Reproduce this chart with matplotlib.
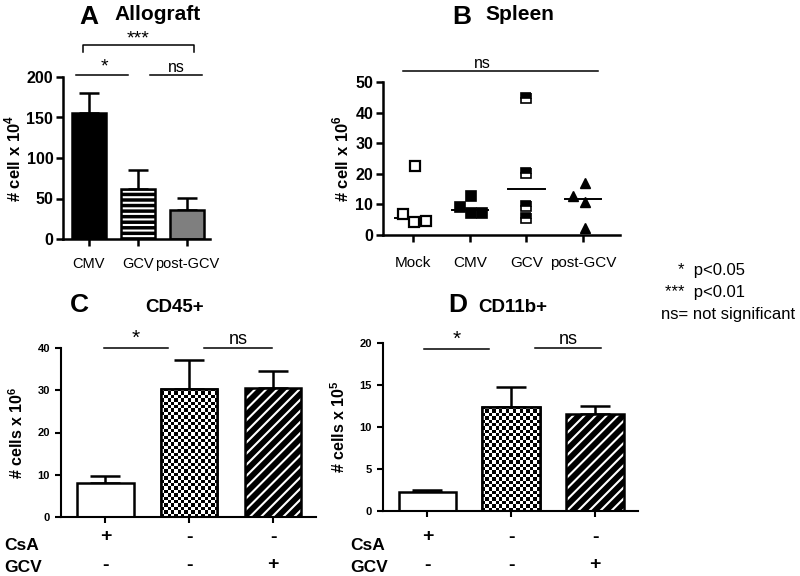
import matplotlib
matplotlib.use('Agg')
import matplotlib.pyplot as plt
import numpy as np

plt.rcParams['font.family'] = ['Liberation Sans', 'DejaVu Sans']
plt.rcParams['mathtext.fontset'] = 'custom'
plt.rcParams['mathtext.rm'] = 'Liberation Sans'
plt.rcParams['mathtext.bf'] = 'Liberation Sans:bold'
plt.rcParams['hatch.linewidth'] = 1.5

# ---- data ----
a_groups = ['CMV', 'GCV', 'post-GCV']
a_mean = [155, 62, 36]
a_sem = [25, 23, 15]

b_groups = ['Mock', 'CMV', 'GCV', 'post-GCV']
b_mock = [6.7, 4.3, 4.7, 22.6]
b_cmv = [9.2, 12.8, 7.3, 7.3]
b_gcv = [44.9, 20.3, 9.5, 5.7]
b_post = [12.8, 17.1, 10.7, 2.3]
# horizontal spread of points (GraphPad style scatter)
b_jitter = [[-0.18, 0.02, 0.22, 0.03],
            [-0.18, 0.03, 0.03, 0.22],
            [0, 0, 0, 0],
            [-0.18, 0.03, 0.03, 0.03]]

c_mean = [8.0, 30.3, 30.6]
c_sem = [1.7, 6.8, 3.9]

d_mean = [2.3, 12.4, 11.6]
d_sem = [0.15, 2.4, 0.9]

csa_signs = ['+', '-', '-']
gcv_signs = ['-', '-', '+']

W, H = 800, 576
fig = plt.figure(figsize=(8, 5.76), dpi=100)


def px_axes(l, t, r, b):
    return fig.add_axes([l / W, 1 - b / H, (r - l) / W, (b - t) / H])


def style_axes(ax, lw):
    for s in ['top', 'right']:
        ax.spines[s].set_visible(False)
    for s in ['left', 'bottom']:
        ax.spines[s].set_linewidth(lw)
    ax.tick_params(width=lw, length=5, direction='out', pad=2)


def checker_fill(ax, bar, size=3.4):
    ext = bar.get_window_extent()
    nx = max(2, int(round(ext.width / size)))
    ny = max(2, int(round(ext.height / size)))
    pat = (np.add.outer(np.arange(ny), np.arange(nx)) % 2).astype(float)
    x0, y0 = bar.get_x(), bar.get_y()
    im = ax.imshow(pat, cmap='gray', interpolation='nearest', aspect='auto',
                   extent=(x0, x0 + bar.get_width(), y0 + bar.get_height(), y0),
                   zorder=2.5, vmin=0, vmax=1)
    im.set_clip_path(bar)


def sig(ax, x0, x1, y, label, fs, tx=None):
    ax.plot([x0, x1], [y, y], color='k', lw=1.1, clip_on=False)
    if tx is None:
        tx = (x0 + x1) / 2
    ax.text(tx, y, label, ha='center', va='bottom', fontsize=fs, clip_on=False)


# ---- panel A ----
axA = px_axes(63, 77, 210, 239)
xa = np.arange(len(a_groups))
bars = axA.bar(xa, a_mean, width=0.68, color=['black', 'black', '#7f7f7f'],
               edgecolor='black', linewidth=1.8, zorder=2)
bars[1].set_hatch('---')
bars[1].set_edgecolor('white')
bars[1].set_linewidth(0)
axA.bar(xa[1], a_mean[1], width=0.68, color='none', edgecolor='black',
        linewidth=1.8, zorder=3)
axA.errorbar(xa, a_mean, yerr=[np.zeros(3), a_sem], fmt='none', ecolor='black',
             elinewidth=1.8, capsize=7, capthick=1.8, zorder=1)
axA.set_xlim(-0.53, 2.47)
axA.set_ylim(0, 200)
axA.set_yticks([0, 50, 100, 150, 200])
axA.set_xticks(xa)
axA.set_xticklabels(a_groups, fontsize=10.5)
for lab in axA.get_yticklabels():
    lab.set_fontsize(11.5)
    lab.set_fontweight('bold')
style_axes(axA, 1.8)
axA.tick_params(axis='x', pad=8)
axA.set_ylabel('# cell x 10$^\\mathbf{4}$', fontsize=12, fontweight='bold',
               labelpad=2)
sig(axA, -0.27, 0.8, 202.5, '*', 14, tx=0.31)
sig(axA, 1.24, 2.31, 202.5, 'ns', 11.5)
axA.plot([-0.12, -0.12, 2.14, 2.14], [231, 239.5, 239.5, 231], color='k',
         lw=1.1, clip_on=False)
axA.text(1.0, 237, '***', ha='center', va='bottom', fontsize=14)

fig.text(79 / W, 1 - 17 / H, 'A', fontsize=19, fontweight='bold', va='center')
fig.text(114 / W, 1 - 15 / H, 'Allograft', fontsize=15, fontweight='bold',
         va='center')

# ---- panel B ----
axB = px_axes(383, 82, 620, 235)
b_data = [b_mock, b_cmv, b_gcv, b_post]
for i, vals in enumerate(b_data):
    xs = i + np.array(b_jitter[i])
    if i == 0:
        axB.plot(xs, vals, 's', ms=7, mfc='white', mec='black', mew=1.6,
                 clip_on=False, zorder=3)
    elif i == 1:
        axB.plot(xs, vals, 's', ms=7, mfc='black', mec='black', mew=1.2,
                 clip_on=False, zorder=3)
    elif i == 2:
        axB.plot(xs, vals, 's', ms=7, mfc='black', mfcalt='white',
                 fillstyle='top', mec='black', mew=1.2, clip_on=False, zorder=3)
    else:
        axB.plot(xs, vals, '^', ms=7.5, mfc='black', mec='black', mew=1,
                 clip_on=False, zorder=3)
    med = np.median(vals)
    axB.plot([i - 0.32, i + 0.32], [med, med], color='black', lw=1.4, zorder=2)
axB.set_xlim(-0.53, 3.65)
axB.set_ylim(0, 50)
axB.set_yticks([0, 10, 20, 30, 40, 50])
axB.set_xticks(range(4))
axB.set_xticklabels(b_groups, fontsize=11)
for lab in axB.get_yticklabels():
    lab.set_fontsize(11.5)
    lab.set_fontweight('bold')
style_axes(axB, 1.8)
axB.tick_params(axis='x', pad=10)
axB.set_ylabel('# cell x 10$^\\mathbf{6}$', fontsize=12, fontweight='bold',
               labelpad=3)
sig(axB, -0.18, 3.26, 53.6, 'ns', 11.5, tx=1.22)

fig.text(452 / W, 1 - 17 / H, 'B', fontsize=19, fontweight='bold', va='center')
fig.text(485 / W, 1 - 15 / H, 'Spleen', fontsize=15, fontweight='bold',
         va='center')

# ---- legend text ----
fig.text(745 / W, 1 - 271 / H, '*  p<0.05', fontsize=12, ha='right', va='center')
fig.text(745 / W, 1 - 293 / H, '***  p<0.01', fontsize=12, ha='right', va='center')
fig.text(795 / W, 1 - 315 / H, 'ns= not significant', fontsize=12, ha='right',
         va='center')


# ---- panels C and D ----
def cd_panel(rect, means, sems, ylim, yticks, ylabel, width, ymax_lines,
             star_x, ns_x, letter_xy, title_xy, title, row_x):
    ax = px_axes(*rect)
    x = np.arange(3)
    bars = ax.bar(x, means, width=width, color=['white', 'white', 'black'],
                  edgecolor='black', linewidth=1.8, zorder=2)
    bars[2].set_hatch('///')
    bars[2].set_edgecolor('white')
    bars[2].set_linewidth(0)
    ax.bar(x[1:], means[1:], width=width, color='none', edgecolor='black',
           linewidth=1.8, zorder=3)
    ax.errorbar(x, means, yerr=[np.zeros(3), sems], fmt='none', ecolor='black',
                elinewidth=1.8, capsize=10.5, capthick=1.8, zorder=1)
    ax.set_xlim(-0.53, 2.51)
    ax.set_ylim(*ylim)
    checker_fill(ax, bars[1])
    ax.set_xlim(-0.53, 2.51)
    ax.set_ylim(*ylim)
    ax.set_yticks(yticks)
    ax.set_xticks(x)
    ax.set_xticklabels([])
    for lab in ax.get_yticklabels():
        lab.set_fontsize(8)
        lab.set_fontweight('bold')
    style_axes(ax, 1.5)
    ax.tick_params(length=4, pad=4)
    ax.set_ylabel(ylabel, fontsize=11.5, fontweight='bold', labelpad=8)
    sig(ax, star_x[0], star_x[1], ymax_lines[0], '*', 15)
    sig(ax, ns_x[0], ns_x[1], ymax_lines[1], 'ns', 13)
    tr = ax.get_xaxis_transform()
    bottom = rect[3]
    hgt = rect[3] - rect[1]
    for i in range(3):
        ax.text(x[i], -(537 - bottom) / hgt, csa_signs[i], transform=tr,
                ha='center', va='center', fontsize=14, fontweight='bold')
        ax.text(x[i], -(565 - bottom) / hgt, gcv_signs[i], transform=tr,
                ha='center', va='center', fontsize=14, fontweight='bold')
    fig.text(row_x / W, 1 - 545 / H, 'CsA', fontsize=12.5, fontweight='bold',
             va='center')
    fig.text(row_x / W, 1 - 568 / H, 'GCV', fontsize=12.5, fontweight='bold',
             va='center')
    fig.text(letter_xy[0] / W, 1 - letter_xy[1] / H, title[0], fontsize=19,
             fontweight='bold', va='center')
    fig.text(title_xy[0] / W, 1 - title_xy[1] / H, title[1], fontsize=13.5,
             fontweight='bold', va='center')
    return ax


cd_panel((61, 348, 316, 517), c_mean, c_sem, (0, 40), [0, 10, 20, 30, 40],
         '# cells x 10$^\\mathbf{6}$', 0.67, (40.1, 40.1), (-0.02, 0.75),
         (1.18, 1.99), (70, 305), (145, 307), ('C', 'CD45+'), 4)
cd_panel((383, 343, 638, 511), d_mean, d_sem, (0, 20), [0, 5, 10, 15, 20],
         '# cells x 10$^\\mathbf{5}$', 0.69, (19.3, 19.4), (-0.04, 0.73),
         (1.28, 2.07), (448, 305), (478, 307), ('D', 'CD11b+'), 350)

fig.savefig('out.png', dpi=100)
